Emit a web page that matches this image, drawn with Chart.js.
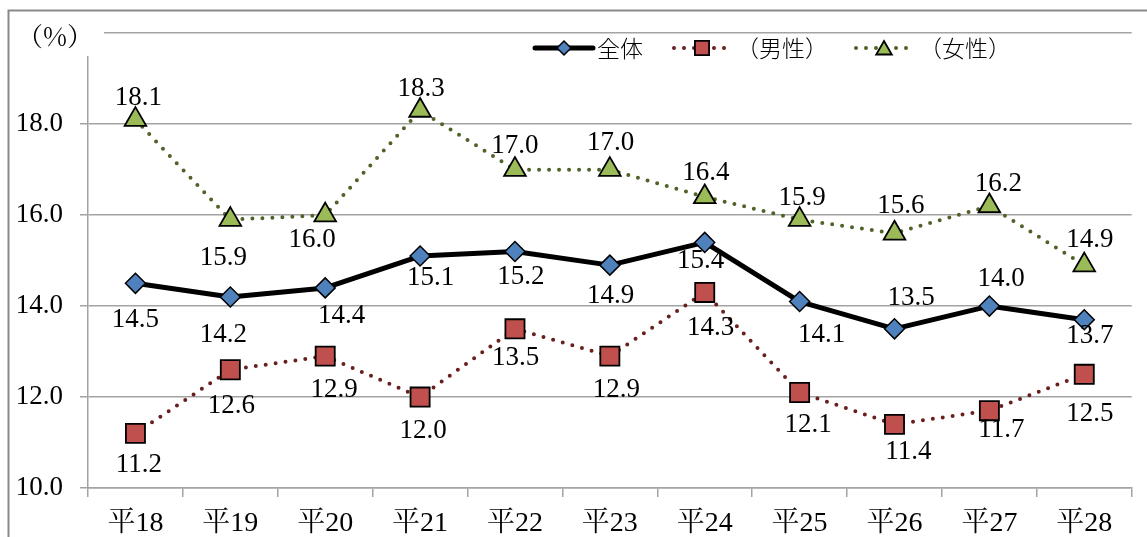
<!DOCTYPE html>
<html lang="ja">
<head>
<meta charset="utf-8">
<title>割合の推移</title>
<script src="https://cdn.jsdelivr.net/npm/chart.js@4.4.1/dist/chart.umd.min.js"></script>
<style>
  html, body { margin: 0; padding: 0; background: #ffffff; }
  #wrap { width: 1147px; height: 537px; }
</style>
</head>
<body>
<div id="wrap"><canvas id="chart" width="1147" height="537"></canvas></div>
<script>
// Fiscal years (Heisei 18–28)
const categories = ['平18', '平19', '平20', '平21', '平22', '平23', '平24', '平25', '平26', '平27', '平28'];

// Rates (%)
const totalRate  = [14.5, 14.2, 14.4, 15.1, 15.2, 14.9, 15.4, 14.1, 13.5, 14.0, 13.7];
const maleRate   = [11.2, 12.6, 12.9, 12.0, 13.5, 12.9, 14.3, 12.1, 11.4, 11.7, 12.5];
const femaleRate = [18.1, 15.9, 16.0, 18.3, 17.0, 17.0, 16.4, 15.9, 15.6, 16.2, 14.9];

// Value axis ticks
const yTickValues = [10, 12, 14, 16, 18, 20];

// Series names
const seriesNames = ['全体', '（男性）', '（女性）'];

// Value label placement relative to each point: [dx, baseline dy]
const totalLabelOffset  = [[0, 43.5], [-7, 44.8], [16.5, 35], [10.5, 29], [6, 32], [0.7, 37.7], [-4, 26], [22, 40.3], [16.7, -23.7], [11.8, -20], [5.5, 23.7]];
const maleLabelOffset   = [[3.5, 38.3], [1, 43.6], [9, 40.7], [3, 41], [0.7, 36], [6.5, 40.7], [6, 42.6], [8.5, 40], [14, 35], [12, 26.7], [5.5, 46.5]];
const femaleLabelOffset = [[3, -14.4], [-7, 45.5], [-13, 31.7], [1, -15], [0, -16.8], [0.7, -19.5], [1.2, -16.8], [2.5, -14.5], [6.5, -20], [9, -15], [5.5, -18.3]];

const SERIF = '"Liberation Serif", "Noto Serif CJK JP", serif';
const GRID = '#a3a3a3';

// Outer frame, unit caption and white background
const framePlugin = {
  id: 'frame',
  beforeDraw(chart) {
    const ctx = chart.ctx;
    ctx.save();
    ctx.fillStyle = '#ffffff';
    ctx.fillRect(0, 0, chart.width, chart.height);
    ctx.restore();
  },
  afterDraw(chart) {
    const ctx = chart.ctx;
    ctx.save();
    // unit caption in the upper-left corner
    ctx.fillStyle = '#ffffff';
    ctx.fillRect(10, 12, 94, 44);
    ctx.fillStyle = '#000000';
    ctx.font = '26px "Noto Serif CJK JP", serif';
    ctx.textAlign = 'center';
    ctx.textBaseline = 'middle';
    ctx.fillText('（%）', 55, 36);
    // frame
    ctx.strokeStyle = '#8a8a8a';
    ctx.lineWidth = 2;
    ctx.beginPath();
    ctx.moveTo(8.5, chart.height + 5);
    ctx.lineTo(8.5, 10.5);
    ctx.lineTo(chart.width + 5, 10.5);
    ctx.stroke();
    ctx.restore();
  }
};

// Value labels next to each marker
const offsets = [totalLabelOffset, maleLabelOffset, femaleLabelOffset];
const valueLabelPlugin = {
  id: 'valueLabels',
  afterDatasetsDraw(chart) {
    const ctx = chart.ctx;
    ctx.save();
    ctx.font = '27px ' + SERIF;
    ctx.fillStyle = '#000000';
    ctx.textAlign = 'center';
    ctx.textBaseline = 'alphabetic';
    chart.data.datasets.forEach((ds, di) => {
      const meta = chart.getDatasetMeta(di);
      meta.data.forEach((pt, i) => {
        const [dx, dy] = offsets[di][i];
        ctx.fillText(ds.data[i].toFixed(1), pt.x + dx, pt.y + dy);
      });
    });
    ctx.restore();
  }
};

// Legend: line sample with marker, then the series name
const legendSlots = [
  { x0: 535, x1: 593, tx: 597, r: 7 },
  { x0: 674, x1: 730, tx: 736, r: 10 },
  { x0: 856, x1: 912, tx: 919, r: 9 }
];
const legendPlugin = {
  id: 'lineLegend',
  afterDraw(chart) {
    const ctx = chart.ctx;
    const y = 48;
    chart.data.datasets.forEach((ds, di) => {
      const s = legendSlots[di];
      ctx.save();
      ctx.strokeStyle = ds.borderColor;
      ctx.lineWidth = ds.borderWidth;
      ctx.lineCap = 'round';
      ctx.setLineDash(ds.borderDash || []);
      ctx.beginPath();
      ctx.moveTo(s.x0, y);
      ctx.lineTo(s.x1, y);
      ctx.stroke();
      ctx.setLineDash([]);
      ctx.fillStyle = ds.pointBackgroundColor;
      ctx.strokeStyle = ds.pointBorderColor;
      ctx.lineWidth = ds.pointBorderWidth;
      Chart.helpers.drawPoint(ctx, { pointStyle: ds.pointStyle, radius: s.r, borderWidth: ds.pointBorderWidth, rotation: 0 }, (s.x0 + s.x1) / 2, ds.pointStyle === 'triangle' ? y + 2 : y);
      ctx.fillStyle = '#000000';
      ctx.font = '300 23px "Noto Sans CJK JP", sans-serif';
      ctx.textAlign = 'left';
      ctx.textBaseline = 'middle';
      ctx.fillText(ds.label, s.tx, y);
      ctx.restore();
    });
  }
};

new Chart(document.getElementById('chart'), {
  type: 'line',
  data: {
    labels: categories,
    datasets: [
      {
        label: seriesNames[0],
        data: totalRate,
        borderColor: '#000000',
        borderWidth: 5,
        borderJoinStyle: 'round',
        pointStyle: 'rectRot',
        pointRadius: 10,
        pointBackgroundColor: '#4f81bd',
        pointBorderColor: '#000000',
        pointBorderWidth: 1.5,
        tension: 0
      },
      {
        label: seriesNames[1],
        data: maleRate,
        borderColor: '#6a1f1f',
        borderWidth: 4,
        borderDash: [0, 10],
        borderCapStyle: 'round',
        pointStyle: 'rect',
        pointRadius: 13.5,
        pointBackgroundColor: '#c0504d',
        pointBorderColor: '#000000',
        pointBorderWidth: 1.8,
        tension: 0
      },
      {
        label: seriesNames[2],
        data: femaleRate,
        borderColor: '#4f6228',
        borderWidth: 4,
        borderDash: [0, 10],
        borderCapStyle: 'round',
        pointStyle: 'triangle',
        pointRadius: 12.5,
        pointBackgroundColor: '#9bbb59',
        pointBorderColor: '#000000',
        pointBorderWidth: 1.8,
        tension: 0
      }
    ]
  },
  options: {
    responsive: false,
    animation: false,
    devicePixelRatio: 1,
    layout: { padding: { left: 0, right: 3, top: 32, bottom: 0 } },
    plugins: {
      legend: { display: false },
      tooltip: { enabled: false },
      title: { display: false }
    },
    scales: {
      x: {
        type: 'category',
        offset: true,
        grid: {
          offset: true,
          drawOnChartArea: false,
          drawTicks: true,
          tickLength: 9,
          color: GRID,
          lineWidth: 1.5
        },
        border: { display: true, color: GRID, width: 1.5 },
        ticks: {
          font: { family: SERIF, size: 28 },
          color: '#000000',
          padding: 10,
          maxRotation: 0,
          autoSkip: false
        },
        afterFit(scale) { scale.height = 49; }
      },
      y: {
        min: 10,
        max: 20,
        afterBuildTicks(scale) { scale.ticks = yTickValues.map(v => ({ value: v })); },
        grid: {
          color: GRID,
          lineWidth: 1.5,
          tickLength: 8
        },
        border: { display: true, color: GRID, width: 1.5 },
        ticks: {
          font: { family: SERIF, size: 27 },
          color: '#000000',
          padding: 17,
          callback: v => (v >= 20 ? '' : Number(v).toFixed(1))
        },
        afterFit(scale) { scale.width = 88; }
      }
    }
  },
  plugins: [framePlugin, valueLabelPlugin, legendPlugin]
});
</script>
</body>
</html>
